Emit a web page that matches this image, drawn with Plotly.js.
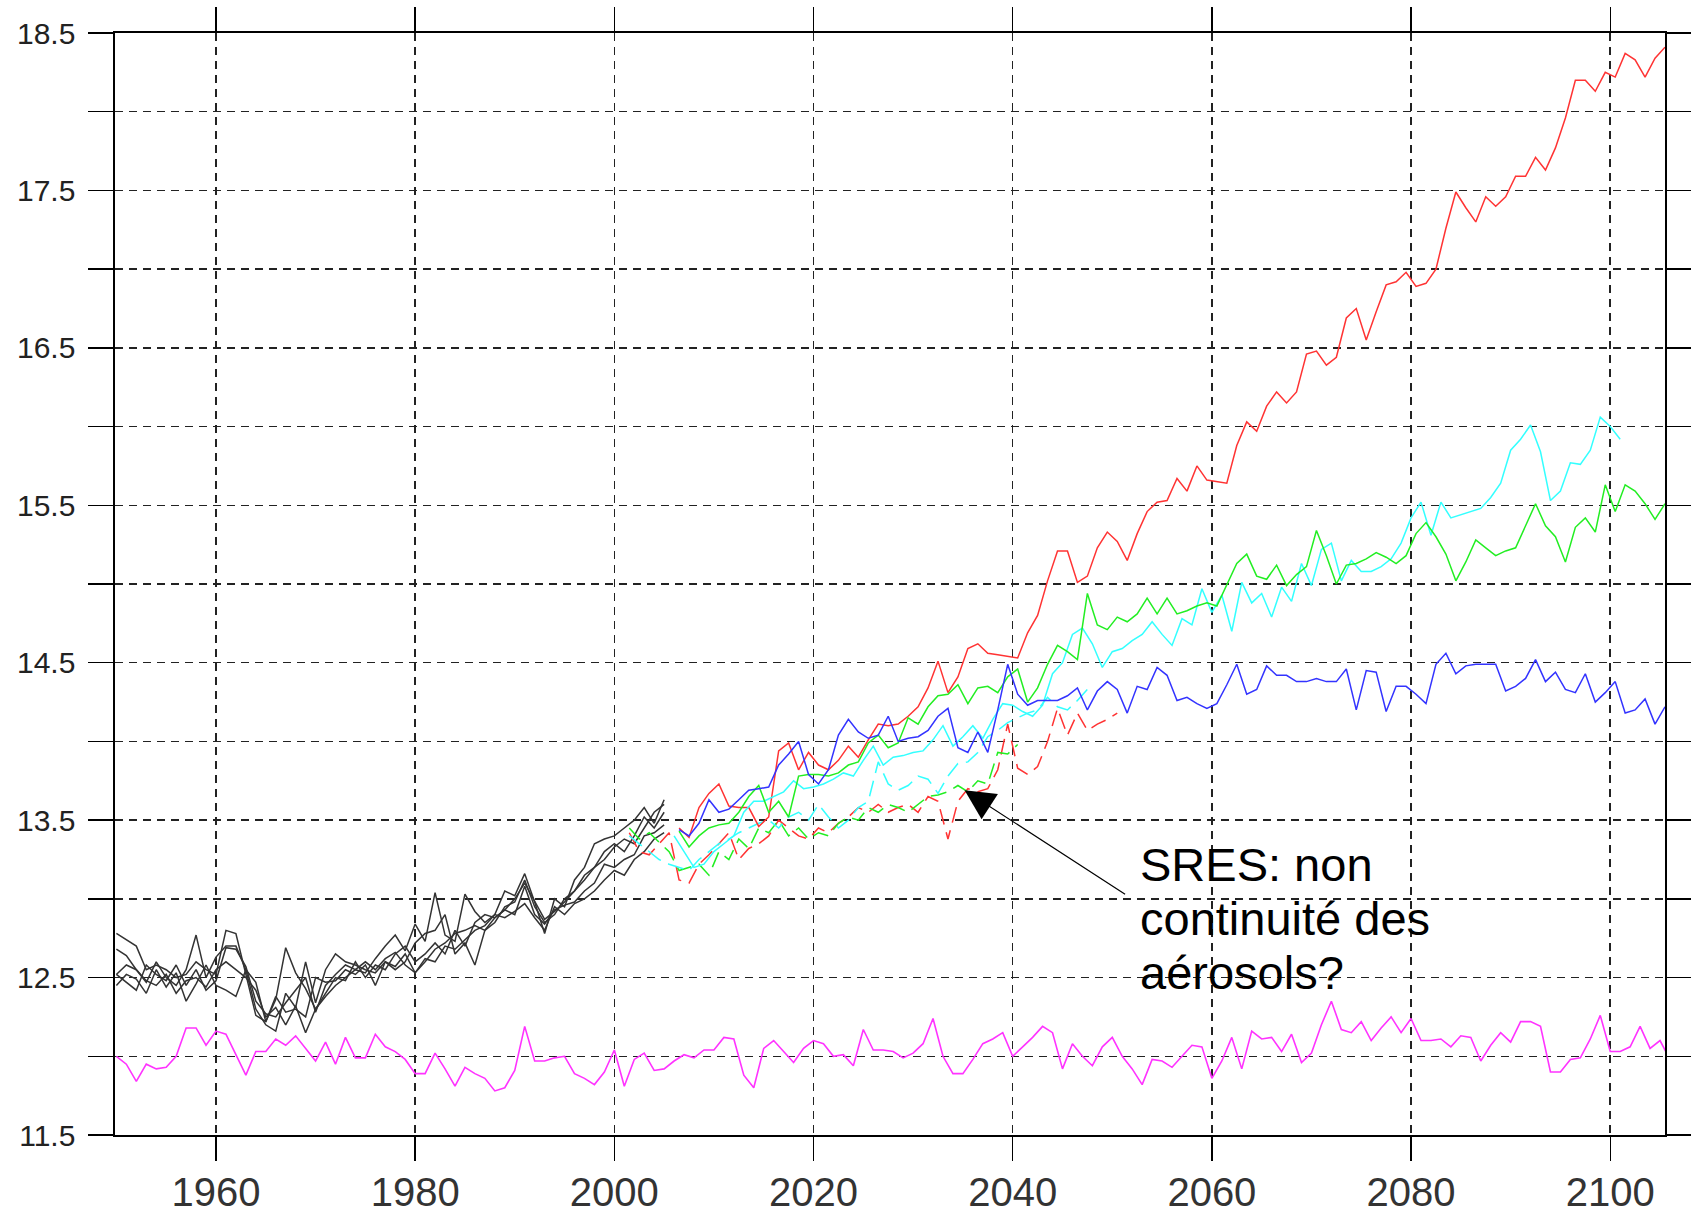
<!DOCTYPE html>
<html><head><meta charset="utf-8">
<script src="https://cdn.plot.ly/plotly-3.0.1.min.js"></script>
<style>html,body{margin:0;padding:0;background:#fff}</style>
</head><body>
<div id="chart" style="width:1691px;height:1213px"></div>
<script>
// ---- data ----
const controlStart = 1950;
const controlValues = [12.00,11.95,11.84,11.95,11.92,11.93,12.00,12.18,12.18,12.07,12.16,12.14,12.01,11.88,12.03,12.03,12.11,12.07,12.13,12.05,11.97,12.09,11.95,12.12,11.99,11.99,12.14,12.06,12.03,11.98,11.89,11.89,12.02,11.92,11.81,11.93,11.89,11.86,11.78,11.80,11.91,12.19,11.97,11.97,11.99,12.00,11.89,11.86,11.82,11.90,12.04,11.81,11.98,12.02,11.91,11.92,11.97,12.01,11.99,12.04,12.04,12.12,12.11,11.88,11.80,12.05,12.10,12.03,11.96,12.05,12.10,12.08,12.00,12.01,11.94,12.17,12.04,12.04,12.03,11.99,12.02,12.08,12.24,12.00,11.89,11.89,11.98,12.08,12.11,12.15,12.00,12.06,12.12,12.19,12.15,11.92,12.08,12.00,11.94,12.06,12.12,12.00,11.92,11.82,11.98,11.97,11.93,12.00,12.07,12.06,11.86,11.97,12.12,11.92,12.16,12.11,12.12,12.03,12.14,11.96,12.02,12.20,12.35,12.17,12.15,12.22,12.10,12.18,12.25,12.15,12.24,12.10,12.10,12.11,12.06,12.13,12.12,11.97,12.07,12.15,12.09,12.22,12.22,12.19,11.90,11.90,11.98,11.99,12.11,12.26,12.03,12.03,12.06,12.19,12.05,12.10,11.98];

const histStart = 1950;
const hist1 = [12.78,12.74,12.70,12.55,12.58,12.55,12.50,12.52,12.60,12.55,12.52,12.80,12.78,12.52,12.26,12.22,12.36,12.69,12.53,12.43,12.30,12.38,12.45,12.50,12.55,12.53,12.62,12.70,12.77,12.67,12.84,12.73,13.04,12.77,12.73,13.03,12.92,12.85,12.90,13.05,13.02,13.16,12.98,12.78,13.00,12.95,13.12,13.20,13.35,13.38,13.40,13.45,13.50,13.58,13.48,13.63];
const hist2 = [12.68,12.64,12.55,12.47,12.60,12.50,12.45,12.55,12.77,12.50,12.63,12.70,12.70,12.55,12.30,12.20,12.16,12.40,12.31,12.60,12.34,12.55,12.65,12.60,12.58,12.55,12.53,12.60,12.55,12.60,12.72,12.78,12.80,12.90,12.65,12.72,12.58,12.80,12.85,12.95,12.98,13.12,12.95,12.85,12.90,13.00,13.05,13.12,13.20,13.30,13.35,13.30,13.40,13.52,13.45,13.55];
const hist3 = [12.52,12.47,12.42,12.58,12.52,12.48,12.58,12.45,12.55,12.42,12.48,12.69,12.68,12.57,12.35,12.27,12.25,12.34,12.42,12.50,12.28,12.45,12.52,12.58,12.55,12.60,12.55,12.62,12.66,12.58,12.53,12.60,12.68,12.72,12.78,12.80,12.83,12.80,12.88,12.93,12.90,13.08,12.90,12.84,12.93,12.96,12.98,13.05,13.10,13.22,13.20,13.25,13.28,13.40,13.42,13.47];
const hist4 = [12.45,12.52,12.49,12.40,12.55,12.44,12.53,12.35,12.46,12.58,12.45,12.42,12.38,12.55,12.47,12.22,12.38,12.28,12.30,12.25,12.50,12.47,12.48,12.55,12.52,12.58,12.45,12.60,12.57,12.65,12.53,12.62,12.60,12.70,12.68,12.74,12.80,12.83,12.90,12.88,12.92,12.97,12.88,12.80,12.95,12.90,12.97,13.00,13.05,13.12,13.18,13.15,13.25,13.30,13.38,13.42];
const hist5 = [12.52,12.58,12.55,12.48,12.45,12.52,12.40,12.48,12.50,12.44,12.55,12.60,12.55,12.50,12.42,12.25,12.31,12.20,12.32,12.15,12.30,12.40,12.50,12.48,12.60,12.50,12.58,12.55,12.65,12.70,12.60,12.65,12.72,12.65,12.80,12.70,12.85,12.90,12.88,12.93,13.00,13.10,12.98,12.87,12.92,12.98,13.05,13.15,13.20,13.25,13.33,13.38,13.35,13.45,13.55,13.60];

const rcpStart = 2006.5;
const redSolid = [13.45,13.39,13.58,13.67,13.73,13.59,13.58,13.58,13.46,13.52,13.94,13.99,13.82,13.93,13.85,13.82,13.88,13.97,13.90,14.01,14.11,14.10,14.11,14.16,14.22,14.34,14.51,14.31,14.41,14.59,14.62,14.56,14.55,14.54,14.53,14.69,14.80,15.02,15.21,15.21,15.01,15.05,15.23,15.33,15.27,15.15,15.32,15.46,15.52,15.53,15.67,15.59,15.75,15.66,15.65,15.64,15.88,16.03,15.97,16.13,16.22,16.15,16.22,16.46,16.48,16.39,16.44,16.69,16.75,16.55,16.73,16.90,16.92,16.98,16.89,16.91,17.00,17.26,17.49,17.39,17.30,17.46,17.40,17.46,17.59,17.59,17.71,17.63,17.77,17.96,18.20,18.20,18.13,18.25,18.22,18.37,18.33,18.22,18.34,18.41];
const greenSolid = [13.43,13.33,13.40,13.45,13.47,13.48,13.55,13.65,13.72,13.55,13.62,13.52,13.78,13.79,13.79,13.78,13.80,13.85,13.87,13.99,14.04,13.96,13.99,14.15,14.11,14.22,14.29,14.30,14.36,14.24,14.34,14.35,14.31,14.41,14.46,14.25,14.34,14.49,14.61,14.57,14.52,14.94,14.74,14.71,14.79,14.76,14.81,14.91,14.81,14.91,14.81,14.83,14.86,14.88,14.86,15.00,15.13,15.19,15.05,15.03,15.12,14.99,15.06,15.11,15.34,15.18,15.00,15.12,15.13,15.16,15.20,15.17,15.13,15.18,15.32,15.39,15.30,15.19,15.02,15.14,15.28,15.23,15.18,15.21,15.23,15.37,15.51,15.37,15.30,15.14,15.36,15.42,15.33,15.63,15.46,15.63,15.59,15.51,15.41,15.51];
const blueSolid = [13.44,13.40,13.48,13.63,13.55,13.57,13.63,13.69,13.70,13.71,13.85,13.92,14.00,13.79,13.73,13.82,14.04,14.14,14.06,14.02,14.04,14.16,14.00,14.02,14.03,14.07,14.16,14.21,13.96,13.93,14.06,13.93,14.20,14.49,14.30,14.23,14.26,14.26,14.26,14.29,14.34,14.20,14.32,14.38,14.33,14.18,14.35,14.33,14.47,14.42,14.26,14.28,14.24,14.21,14.24,14.36,14.49,14.30,14.33,14.48,14.42,14.42,14.38,14.38,14.40,14.38,14.38,14.46,14.20,14.45,14.44,14.19,14.35,14.35,14.30,14.24,14.49,14.56,14.43,14.48,14.49,14.49,14.49,14.32,14.35,14.40,14.52,14.38,14.44,14.33,14.31,14.43,14.25,14.31,14.38,14.18,14.20,14.27,14.11,14.22];

const cyanStart = 2006;
const cyanSolid = [13.40,13.30,13.20,13.22,13.30,13.35,13.40,13.55,13.62,13.62,13.65,13.68,13.75,13.70,13.71,13.73,13.76,13.80,13.78,13.88,13.97,13.85,13.90,13.91,13.93,13.94,14.01,14.10,13.97,14.03,14.10,14.02,14.14,14.24,14.23,14.19,14.16,14.23,14.43,14.50,14.68,14.72,14.62,14.47,14.57,14.59,14.64,14.68,14.76,14.68,14.61,14.78,14.74,14.97,14.82,14.93,14.70,15.01,14.88,14.94,14.79,14.98,14.89,15.13,14.99,15.22,15.26,15.02,15.15,15.08,15.08,15.11,15.16,15.26,15.42,15.52,15.31,15.52,15.42,15.44,15.46,15.48,15.55,15.64,15.85,15.92,16.01,15.84,15.53,15.59,15.77,15.76,15.85,16.06,16.00,15.92];

const sresStart = 2001.5;
const redDashed = [13.42,13.30,13.28,13.35,13.42,13.12,13.10,13.22,13.28,13.35,13.42,13.25,13.32,13.35,13.40,13.50,13.45,13.40,13.38,13.45,13.42,13.48,13.52,13.58,13.55,13.60,13.55,13.58,13.60,13.55,13.65,13.62,13.38,13.62,13.70,13.68,13.70,13.82,14.11,13.83,13.79,13.84,14.00,14.21,14.04,14.18,14.07,14.11,14.14,14.18];
const greenDashed = [13.45,13.38,13.42,13.36,13.30,13.18,13.20,13.22,13.15,13.30,13.25,13.38,13.32,13.45,13.42,13.50,13.40,13.45,13.38,13.42,13.40,13.48,13.52,13.50,13.58,13.55,13.60,13.58,13.55,13.60,13.65,13.66,13.68,13.72,13.68,13.75,13.73,13.93,13.92,13.98];
const cyanDashed = [13.40,13.35,13.30,13.25,13.22,13.20,13.18,13.25,13.30,13.35,13.38,13.42,13.45,13.48,13.50,13.45,13.52,13.55,13.50,13.60,13.52,13.45,13.50,13.58,13.62,13.87,13.73,13.69,13.72,13.78,13.76,13.67,13.78,13.86,13.87,13.93,14.03,14.07,14.12,14.15,14.18,14.20,14.28,14.22,14.20,14.26,14.33];

const xTickVals = [1960,1980,2000,2020,2040,2060,2080,2100];
const yTickVals = [11.5,12,12.5,13,13.5,14,14.5,15,15.5,16,16.5,17,17.5,18,18.5];
const yTickText = ['11.5','','12.5','','13.5','','14.5','','15.5','','16.5','','17.5','','18.5'];
const noteLines = ['SRES: non','continuité des','aérosols?'];

// ---- helpers ----
function years(start, n){ const a=[]; for(let i=0;i<n;i++) a.push(start+i); return a; }
function line(start, vals, color, dash, width){
  return {x: years(start, vals.length), y: vals, type:'scatter', mode:'lines',
          line:{color:color, width:width||1.5, dash:dash||'solid'}, hoverinfo:'skip', showlegend:false};
}

const traces = [
  line(controlStart, controlValues, '#ff33ff', null, 1.6),
  line(histStart, hist1, '#333333', null, 1.5),
  line(histStart, hist2, '#333333', null, 1.5),
  line(histStart, hist3, '#333333', null, 1.5),
  line(histStart, hist4, '#333333', null, 1.5),
  line(histStart, hist5, '#333333', null, 1.5),
  line(sresStart, redDashed, '#ff3333', '16px,8px'),
  line(sresStart, greenDashed, '#22ee22', '16px,8px'),
  line(sresStart, cyanDashed, '#33ffff', '16px,8px'),
  line(rcpStart, redSolid, '#ff3333'),
  line(cyanStart, cyanSolid, '#33ffff'),
  line(rcpStart, greenSolid, '#22ee22'),
  line(rcpStart, blueSolid, '#3333ff')
];

const noteFont = {size:47, color:'#000', family:'Liberation Sans, Arial, sans-serif'};
const noteY = [13.216, 12.873, 12.530];
const annotations = [
  {x:2035.17, y:13.69, xref:'x', yref:'y', text:'', showarrow:true,
   ax:162, ay:105, arrowhead:2, arrowsize:5, arrowwidth:1.2, arrowcolor:'#000'}
];
noteLines.forEach((t,i)=>annotations.push({x:2052.6, y:noteY[i], xref:'x', yref:'y', text:t,
  showarrow:false, xanchor:'left', yanchor:'middle', align:'left', font:noteFont}));

const layout = {
  width:1691, height:1213,
  margin:{l:115, r:26, t:33, b:78},
  paper_bgcolor:'#ffffff', plot_bgcolor:'#ffffff',
  font:{family:'Liberation Sans, Arial, sans-serif', color:'#222'},
  xaxis:{range:[1949.86,2105.5], tickvals:xTickVals, ticktext:xTickVals.map(String),
    ticks:'outside', ticklen:24, tickwidth:1.4, tickcolor:'#000', ticklabelstandoff:-3,
    showline:true, linecolor:'#000', linewidth:1.6, mirror:'ticks',
    showgrid:true, gridcolor:'#222', gridwidth:1.5, griddash:'8px,6px',
    zeroline:false, tickfont:{size:40, color:'#333'}},
  yaxis:{range:[11.5,18.5], tickvals:yTickVals, ticktext:yTickText,
    ticks:'outside', ticklen:25, tickwidth:1.4, tickcolor:'#000', ticklabelstandoff:7,
    showline:true, linecolor:'#000', linewidth:1.6, mirror:'ticks',
    showgrid:true, gridcolor:'#222', gridwidth:1.5, griddash:'8px,6px',
    zeroline:false, tickfont:{size:30, color:'#222'}},
  annotations:annotations
};

Plotly.newPlot('chart', traces, layout, {staticPlot:true, displayModeBar:false});
</script>
</body></html>
